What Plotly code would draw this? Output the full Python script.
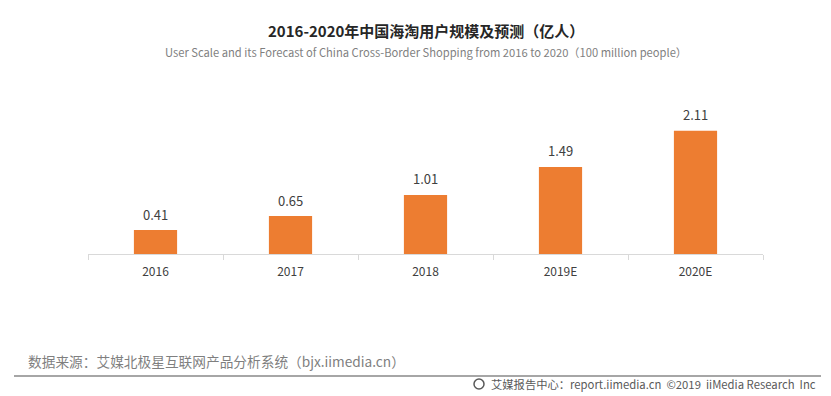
import plotly.graph_objects as go

categories = ["2016", "2017", "2018", "2019E", "2020E"]
values = [0.41, 0.65, 1.01, 1.49, 2.11]
value_labels = ["0.41", "0.65", "1.01", "1.49", "2.11"]

title_cn = "<b>2016-2020年中国海淘用户规模及预测（亿人）</b>"
subtitle_en = "User Scale and its Forecast of China Cross-Border Shopping from 2016 to 2020（100 million people）"
source_text = "数据来源：艾媒北极星互联网产品分析系统（bjx.iimedia.cn）"
footer_text = "艾媒报告中心：report.iimedia.cn  ©2019  iiMedia Research  Inc"

FONT = "Noto Sans CJK SC, Noto Sans, sans-serif"
ORANGE = "#ED7D31"

W, H = 831, 396
ML, MR, MT, MB = 88, 68, 102, 142
PW = W - ML - MR
PH = H - MT - MB


def px_x(x):
    return (x - ML) / PW


def px_y(y):
    return (H - MB - y) / PH


fig = go.Figure(
    go.Bar(
        x=categories,
        y=values,
        marker=dict(color=ORANGE, line=dict(width=0)),
        width=0.32,
        hoverinfo="skip",
    )
)

annotations = []
for i, (v, t) in enumerate(zip(values, value_labels)):
    annotations.append(dict(
        x=i, y=v, xref="x", yref="y", text=t, showarrow=False,
        yanchor="middle", yshift=16,
        font=dict(size=13, color="#404040", family=FONT)))

annotations += [
    dict(text=title_cn, x=0.5, y=px_y(30), xref="paper", yref="paper",
         showarrow=False, font=dict(size=15, color="#262626", family=FONT),
         xanchor="center", yanchor="middle"),
    dict(text=subtitle_en, x=0.5, y=px_y(52), xref="paper", yref="paper",
         showarrow=False, font=dict(size=11.2, color="#7f7f7f", family=FONT),
         xanchor="center", yanchor="middle"),
    dict(text=source_text, x=px_x(26), y=px_y(361), xref="paper", yref="paper",
         showarrow=False, font=dict(size=13.7, color="#7f7f7f", family=FONT),
         xanchor="left", yanchor="middle"),
    dict(text=footer_text, x=px_x(818), y=px_y(384), xref="paper", yref="paper",
         showarrow=False, font=dict(size=11.3, color="#595959", family=FONT),
         xanchor="right", yanchor="middle"),
]

fig.update_layout(
    width=W,
    height=H,
    margin=dict(l=ML, r=MR, t=MT, b=MB),
    paper_bgcolor="white",
    plot_bgcolor="white",
    showlegend=False,
    font=dict(family=FONT, color="#404040"),
    xaxis=dict(
        type="category",
        range=[-0.5, len(categories) - 0.5],
        showline=True,
        linecolor="#d9d9d9",
        linewidth=1,
        ticks="outside",
        tickson="boundaries",
        ticklen=5,
        tickcolor="#d9d9d9",
        ticklabelstandoff=7,
        showgrid=False,
        tickfont=dict(size=12, color="#404040", family=FONT),
    ),
    yaxis=dict(
        range=[0, 2.6],
        visible=False,
        showgrid=False,
        zeroline=False,
    ),
    annotations=annotations,
)

fig.add_shape(type="line", xref="paper", yref="paper",
              x0=px_x(14), x1=px_x(821),
              y0=px_y(376), y1=px_y(376),
              line=dict(color="#a6a6a6", width=2))
# small logo circle in footer
fig.add_shape(type="circle", xref="paper", yref="paper",
              x0=px_x(474), x1=px_x(484),
              y0=px_y(389), y1=px_y(379),
              line=dict(color="#595959", width=1.5))

fig.write_html("out.html", config={"displayModeBar": False},
               post_script="document.body.style.margin='0';")
